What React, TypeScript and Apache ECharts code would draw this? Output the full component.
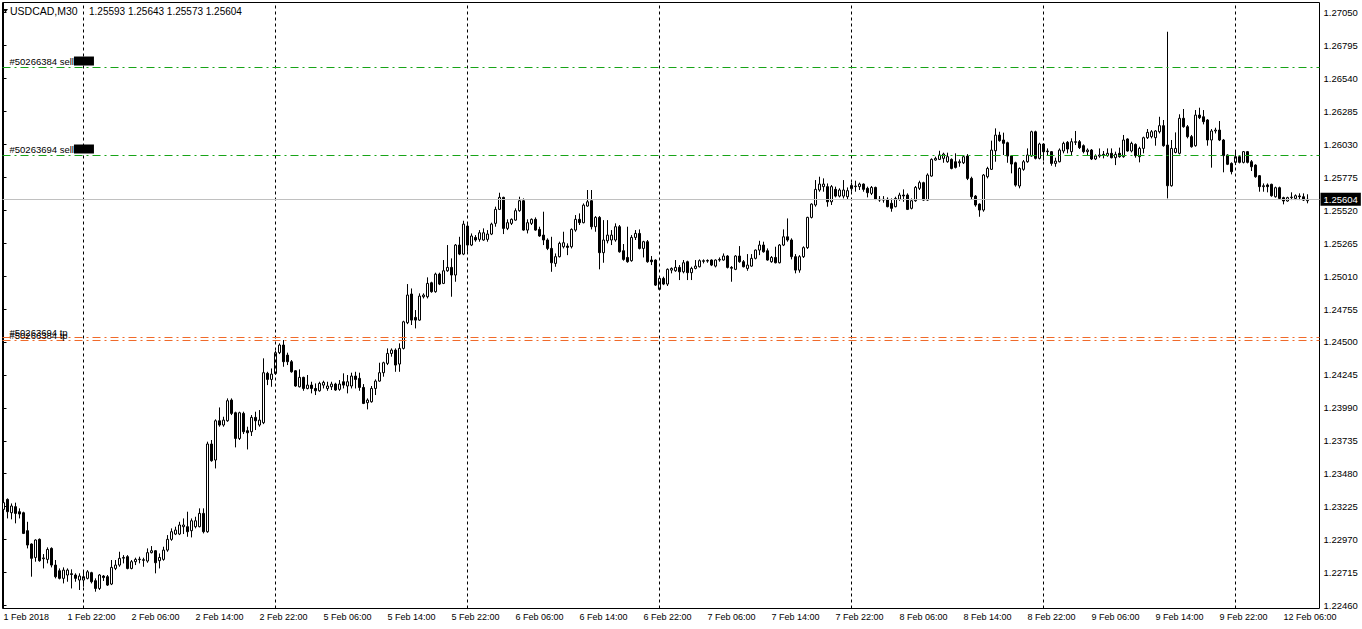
import React, { useEffect, useRef } from "react";
import * as echarts from "echarts";

// Each bar: [open, high, low, close]  (USDCAD, M30)
const feb1: number[][] = [
  [1.23204,1.23289,1.23134,1.23256],[1.23281,1.23289,1.23134,1.23186],[1.23178,1.23250,1.23127,1.23230],[1.23225,1.23256,1.23096,1.23173],
  [1.23186,1.23212,1.23134,1.23168],[1.23178,1.23186,1.23013,1.23018],[1.23039,1.23108,1.22902,1.22928],[1.22936,1.22941,1.22683,1.22825],
  [1.22832,1.22972,1.22799,1.22967],[1.22972,1.22979,1.22799,1.22807],[1.22822,1.22858,1.22747,1.22828],[1.22817,1.22910,1.22786,1.22894],
  [1.22902,1.22910,1.22755,1.22773],[1.22773,1.22812,1.22670,1.22683],[1.22729,1.22747,1.22662,1.22670],[1.22670,1.22755,1.22631,1.22734],
  [1.22696,1.22747,1.22644,1.22734],[1.22706,1.22740,1.22592,1.22700],[1.22696,1.22709,1.22644,1.22670],[1.22657,1.22709,1.22580,1.22688],
];
const feb2: number[][] = [
  [1.22657,1.22721,1.22605,1.22683],[1.22670,1.22734,1.22662,1.22721],[1.22714,1.22721,1.22631,1.22644],[1.22652,1.22670,1.22567,1.22592],
  [1.22592,1.22703,1.22580,1.22696],[1.22688,1.22696,1.22650,1.22676],[1.22683,1.22696,1.22611,1.22618],[1.22626,1.22812,1.22618,1.22755],
  [1.22747,1.22812,1.22734,1.22773],[1.22773,1.22876,1.22760,1.22825],[1.22826,1.22850,1.22786,1.22832],[1.22838,1.22850,1.22740,1.22747],
  [1.22747,1.22812,1.22740,1.22799],[1.22799,1.22830,1.22773,1.22817],[1.22815,1.22838,1.22786,1.22819],[1.22814,1.22830,1.22760,1.22810],
  [1.22804,1.22902,1.22791,1.22869],[1.22869,1.22920,1.22863,1.22884],[1.22884,1.22889,1.22709,1.22791],[1.22807,1.22863,1.22747,1.22832],
  [1.22817,1.22915,1.22807,1.22889],[1.22889,1.23005,1.22876,1.22972],[1.22972,1.23057,1.22961,1.23031],[1.23013,1.23070,1.23005,1.23044],
  [1.23013,1.23108,1.23005,1.23083],[1.23070,1.23134,1.23013,1.23083],[1.23070,1.23186,1.22992,1.23031],[1.23039,1.23134,1.22987,1.23116],
  [1.23070,1.23147,1.23057,1.23116],[1.23070,1.23212,1.23065,1.23173],[1.23173,1.23212,1.23018,1.23031],[1.23031,1.23728,1.23023,1.23710],
  [1.23710,1.23741,1.23573,1.23581],[1.23586,1.23901,1.23521,1.23890],[1.23890,1.23993,1.23844,1.23857],[1.23857,1.23921,1.23844,1.23895],
  [1.23890,1.24063,1.23882,1.24045],[1.24050,1.24063,1.23934,1.23947],[1.23952,1.23960,1.23684,1.23753],[1.23753,1.23960,1.23741,1.23952],
  [1.23947,1.23960,1.23787,1.23805],[1.23813,1.23844,1.23668,1.23797],[1.23805,1.23934,1.23772,1.23916],[1.23916,1.23960,1.23818,1.23890],
  [1.23857,1.23973,1.23844,1.23895],[1.23875,1.24373,1.23864,1.24262],[1.24257,1.24269,1.24166,1.24210],[1.24210,1.24295,1.24153,1.24251],
];
const feb5: number[][] = [
  [1.24255,1.24432,1.24245,1.24417],[1.24417,1.24489,1.24406,1.24476],[1.24476,1.24515,1.24308,1.24347],[1.24398,1.24417,1.24321,1.24347],
  [1.24347,1.24360,1.24262,1.24269],[1.24277,1.24282,1.24153,1.24159],[1.24153,1.24288,1.24148,1.24226],[1.24226,1.24231,1.24122,1.24140],
  [1.24140,1.24244,1.24133,1.24166],[1.24166,1.24192,1.24102,1.24140],[1.24140,1.24179,1.24089,1.24122],[1.24122,1.24192,1.24115,1.24179],
  [1.24166,1.24200,1.24140,1.24187],[1.24140,1.24192,1.24122,1.24159],[1.24153,1.24192,1.24128,1.24174],[1.24174,1.24184,1.24122,1.24128],
  [1.24133,1.24205,1.24122,1.24174],[1.24192,1.24257,1.24140,1.24166],[1.24159,1.24244,1.24102,1.24192],[1.24159,1.24262,1.24140,1.24236],
  [1.24236,1.24269,1.24140,1.24210],[1.24218,1.24262,1.24122,1.24148],[1.24148,1.24174,1.24019,1.24024],[1.24030,1.24063,1.23978,1.24050],
  [1.24037,1.24159,1.24030,1.24140],[1.24140,1.24210,1.24089,1.24197],[1.24197,1.24339,1.24192,1.24262],[1.24262,1.24347,1.24231,1.24339],
  [1.24334,1.24450,1.24321,1.24411],[1.24411,1.24450,1.24386,1.24437],[1.24437,1.24450,1.24269,1.24321],[1.24329,1.24489,1.24269,1.24450],
  [1.24450,1.24664,1.24442,1.24656],[1.24649,1.24948,1.24638,1.24863],[1.24871,1.24914,1.24631,1.24669],[1.24690,1.24747,1.24605,1.24669],
  [1.24669,1.24876,1.24664,1.24855],[1.24850,1.24876,1.24837,1.24863],[1.24850,1.25000,1.24837,1.24953],[1.24958,1.24966,1.24881,1.24889],
  [1.24889,1.25036,1.24881,1.25025],[1.25025,1.25036,1.24940,1.24948],[1.24953,1.25134,1.24948,1.25051],[1.25051,1.25250,1.25043,1.25077],
  [1.25077,1.25147,1.24850,1.25018],[1.25018,1.25258,1.24966,1.25250],[1.25250,1.25314,1.25172,1.25180],[1.25180,1.25438,1.25172,1.25412],
];
const feb6: number[][] = [
  [1.25397,1.25412,1.25198,1.25250],[1.25250,1.25340,1.25242,1.25320],[1.25309,1.25327,1.25276,1.25289],[1.25294,1.25366,1.25276,1.25345],
  [1.25289,1.25379,1.25283,1.25345],[1.25294,1.25366,1.25276,1.25335],[1.25335,1.25423,1.25327,1.25412],[1.25418,1.25547,1.25392,1.25526],
  [1.25526,1.25655,1.25521,1.25619],[1.25619,1.25624,1.25335,1.25379],[1.25379,1.25449,1.25366,1.25423],[1.25418,1.25456,1.25405,1.25449],
  [1.25443,1.25534,1.25438,1.25516],[1.25516,1.25624,1.25508,1.25593],[1.25593,1.25611,1.25361,1.25366],[1.25366,1.25449,1.25340,1.25423],
  [1.25418,1.25456,1.25405,1.25449],[1.25449,1.25464,1.25361,1.25366],[1.25371,1.25392,1.25314,1.25320],[1.25327,1.25508,1.25250,1.25289],
  [1.25289,1.25302,1.25211,1.25224],[1.25224,1.25314,1.25043,1.25113],[1.25108,1.25185,1.25082,1.25160],[1.25160,1.25276,1.25154,1.25263],
  [1.25237,1.25353,1.25224,1.25268],[1.25242,1.25263,1.25172,1.25232],[1.25237,1.25379,1.25224,1.25371],[1.25366,1.25482,1.25353,1.25449],
  [1.25449,1.25495,1.25405,1.25423],[1.25423,1.25572,1.25418,1.25559],[1.25552,1.25676,1.25547,1.25585],[1.25593,1.25676,1.25371,1.25392],
  [1.25392,1.25474,1.25353,1.25464],[1.25464,1.25474,1.25062,1.25191],[1.25191,1.25443,1.25113,1.25289],[1.25283,1.25443,1.25263,1.25327],
  [1.25289,1.25366,1.25250,1.25327],[1.25289,1.25418,1.25276,1.25392],[1.25392,1.25405,1.25191,1.25198],[1.25206,1.25258,1.25129,1.25139],
  [1.25154,1.25392,1.25113,1.25121],[1.25129,1.25327,1.25121,1.25309],[1.25309,1.25366,1.25289,1.25340],[1.25340,1.25371,1.25216,1.25224],
  [1.25224,1.25283,1.25154,1.25276],[1.25276,1.25289,1.25113,1.25121],[1.25134,1.25165,1.25095,1.25121],[1.25134,1.25139,1.24933,1.24940],
];
const feb7: number[][] = [
  [1.24907,1.25000,1.24902,1.24992],[1.24992,1.25005,1.24940,1.24948],[1.24948,1.25069,1.24933,1.25062],[1.25056,1.25077,1.25031,1.25069],
  [1.25051,1.25134,1.25043,1.25077],[1.25077,1.25095,1.24979,1.25043],[1.25043,1.25134,1.25031,1.25113],[1.25121,1.25129,1.24979,1.25036],
  [1.25036,1.25082,1.24979,1.25069],[1.25069,1.25134,1.25062,1.25087],[1.25082,1.25139,1.25077,1.25129],[1.25124,1.25139,1.25108,1.25129],
  [1.25126,1.25139,1.25113,1.25131],[1.25134,1.25139,1.25087,1.25095],[1.25087,1.25139,1.25077,1.25134],[1.25134,1.25154,1.25121,1.25139],
  [1.25134,1.25185,1.25129,1.25165],[1.25165,1.25172,1.25069,1.25077],[1.25077,1.25087,1.24966,1.25071],[1.25062,1.25172,1.25056,1.25165],
  [1.25165,1.25242,1.25113,1.25121],[1.25121,1.25134,1.25077,1.25082],[1.25069,1.25180,1.25051,1.25095],[1.25087,1.25180,1.25082,1.25147],
  [1.25147,1.25216,1.25139,1.25211],[1.25211,1.25283,1.25172,1.25250],[1.25250,1.25276,1.25191,1.25198],[1.25206,1.25224,1.25129,1.25134],
  [1.25121,1.25165,1.25113,1.25154],[1.25154,1.25237,1.25108,1.25113],[1.25113,1.25258,1.25108,1.25250],[1.25250,1.25371,1.25242,1.25314],
  [1.25314,1.25456,1.25276,1.25289],[1.25289,1.25302,1.25139,1.25160],[1.25160,1.25180,1.25031,1.25056],[1.25056,1.25172,1.25036,1.25160],
  [1.25160,1.25240,1.25150,1.25230],[1.25230,1.25469,1.25220,1.25464],[1.25464,1.25573,1.25456,1.25567],[1.25560,1.25753,1.25547,1.25681],
  [1.25676,1.25779,1.25663,1.25722],[1.25702,1.25766,1.25663,1.25722],[1.25702,1.25727,1.25547,1.25585],[1.25585,1.25714,1.25560,1.25702],
  [1.25681,1.25702,1.25619,1.25629],[1.25629,1.25689,1.25619,1.25676],[1.25629,1.25753,1.25611,1.25676],[1.25624,1.25696,1.25604,1.25671],
];
const feb8: number[][] = [
  [1.25686,1.25733,1.25663,1.25712],[1.25702,1.25748,1.25663,1.25707],[1.25702,1.25733,1.25676,1.25722],[1.25722,1.25727,1.25663,1.25681],
  [1.25689,1.25702,1.25619,1.25655],[1.25650,1.25707,1.25637,1.25696],[1.25696,1.25702,1.25598,1.25604],[1.25604,1.25629,1.25585,1.25598],
  [1.25598,1.25629,1.25578,1.25604],[1.25604,1.25619,1.25542,1.25547],[1.25573,1.25611,1.25508,1.25534],[1.25547,1.25624,1.25542,1.25611],
  [1.25604,1.25655,1.25593,1.25637],[1.25637,1.25681,1.25585,1.25630],[1.25637,1.25650,1.25521,1.25526],[1.25534,1.25611,1.25526,1.25593],
  [1.25593,1.25707,1.25585,1.25696],[1.25689,1.25748,1.25676,1.25733],[1.25733,1.25740,1.25593,1.25598],[1.25598,1.25805,1.25593,1.25792],
  [1.25784,1.25921,1.25779,1.25913],[1.25908,1.25934,1.25903,1.25921],[1.25913,1.25980,1.25908,1.25947],[1.25921,1.25965,1.25887,1.25954],
  [1.25895,1.25965,1.25887,1.25934],[1.25913,1.25921,1.25836,1.25843],[1.25895,1.25960,1.25843,1.25851],[1.25887,1.25913,1.25856,1.25895],
  [1.25887,1.25947,1.25877,1.25934],[1.25939,1.25954,1.25753,1.25766],[1.25766,1.25779,1.25604,1.25624],[1.25629,1.25637,1.25547,1.25560],
  [1.25567,1.25573,1.25469,1.25521],[1.25521,1.25800,1.25508,1.25792],[1.25779,1.25856,1.25766,1.25843],[1.25836,1.26058,1.25831,1.25985],
  [1.25980,1.26153,1.25895,1.26101],[1.26101,1.26127,1.26050,1.26058],[1.26063,1.26120,1.25947,1.26037],[1.26042,1.26050,1.25887,1.25939],
  [1.25939,1.25947,1.25805,1.25877],[1.25887,1.25895,1.25702,1.25714],[1.25707,1.25851,1.25689,1.25843],[1.25836,1.25908,1.25825,1.25895],
  [1.25895,1.25998,1.25887,1.25947],[1.25939,1.26135,1.25934,1.26127],[1.26127,1.26135,1.25913,1.25921],[1.25921,1.26042,1.25913,1.26032],
];
const feb9: number[][] = [
  [1.26032,1.26037,1.25903,1.25972],[1.25973,1.25998,1.25947,1.25978],[1.25973,1.25978,1.25864,1.25882],[1.25882,1.25926,1.25856,1.25900],
  [1.25895,1.25998,1.25890,1.25985],[1.25978,1.26050,1.25960,1.26037],[1.26045,1.26055,1.25960,1.25993],[1.25973,1.26076,1.25942,1.26050],
  [1.26045,1.26133,1.26024,1.26050],[1.26050,1.26063,1.25993,1.26004],[1.26019,1.26029,1.25960,1.25973],[1.25973,1.25998,1.25942,1.25985],
  [1.25985,1.25993,1.25908,1.25916],[1.25916,1.25952,1.25908,1.25939],[1.25939,1.25998,1.25926,1.25947],[1.25947,1.25978,1.25921,1.25952],
  [1.25942,1.25998,1.25934,1.25960],[1.25960,1.25998,1.25921,1.25926],[1.25926,1.25973,1.25869,1.25952],[1.25960,1.26004,1.25926,1.25934],
  [1.25934,1.26102,1.25926,1.26063],[1.26071,1.26076,1.25973,1.25978],[1.25978,1.26050,1.25967,1.26037],[1.26029,1.26037,1.25926,1.25942],
  [1.25934,1.26011,1.25890,1.25998],[1.25998,1.26089,1.25960,1.26081],[1.26081,1.26148,1.26071,1.26122],[1.26089,1.26140,1.26076,1.26127],
  [1.26081,1.26140,1.26019,1.26133],[1.26127,1.26243,1.26114,1.26174],[1.26174,1.26218,1.26011,1.26019],[1.26024,1.26901,1.25611,1.25709],
  [1.25709,1.26063,1.25702,1.25998],[1.25967,1.26122,1.25960,1.25998],[1.25960,1.26262,1.25952,1.26231],[1.26231,1.26303,1.26158,1.26166],
  [1.26166,1.26179,1.26076,1.26089],[1.26089,1.26102,1.26004,1.26011],[1.26019,1.26295,1.26011,1.26256],[1.26256,1.26313,1.26225,1.26236],
  [1.26243,1.26295,1.26184,1.26205],[1.26218,1.26225,1.26019,1.26063],[1.26063,1.26148,1.25849,1.26133],[1.26133,1.26158,1.26114,1.26140],
  [1.26140,1.26210,1.26055,1.26063],[1.26063,1.26071,1.25813,1.25942],[1.25947,1.25952,1.25869,1.25875],[1.25882,1.25890,1.25797,1.25818],
];
const feb12: number[][] = [
  [1.25890,1.25973,1.25869,1.25934],[1.25934,1.25942,1.25882,1.25890],[1.25890,1.25978,1.25882,1.25973],[1.25973,1.25978,1.25882,1.25890],
  [1.25895,1.25908,1.25823,1.25856],[1.25869,1.25875,1.25771,1.25779],[1.25787,1.25792,1.25663,1.25702],[1.25702,1.25727,1.25663,1.25709],
  [1.25715,1.25727,1.25658,1.25702],[1.25720,1.25725,1.25624,1.25632],[1.25624,1.25702,1.25617,1.25694],[1.25694,1.25702,1.25606,1.25611],
  [1.25617,1.25624,1.25565,1.25591],[1.25591,1.25624,1.25586,1.25617],[1.25617,1.25658,1.25598,1.25621],[1.25611,1.25642,1.25598,1.25632],
  [1.25630,1.25650,1.25598,1.25624],[1.25624,1.25650,1.25591,1.25598],[1.25593,1.25643,1.25573,1.25604],
];

const dayNames = ["1 Feb", "2 Feb", "5 Feb", "6 Feb", "7 Feb", "8 Feb", "9 Feb", "12 Feb"];
const dayBars = [feb1, feb2, feb5, feb6, feb7, feb8, feb9, feb12];
const firstDayStartHour = 14;
const firstLabel = "1 Feb 2018";
const symbolTitle = "USDCAD,M30";

const priceTicks = [
  1.2246, 1.22715, 1.2297, 1.23225, 1.2348, 1.23735, 1.2399, 1.24245, 1.245, 1.24755,
  1.2501, 1.25265, 1.2552, 1.25775, 1.2603, 1.26285, 1.2654, 1.26795, 1.2705,
];
const sellOrders = [
  { label: "#50266384 sell", price: 1.26628 },
  { label: "#50263694 sell", price: 1.25947 },
];
const tpOrders = [
  { label: "#50263694 tp", price: 1.24538 },
  { label: "#50266384 tp", price: 1.24515 },
];

const FONT = "'Liberation Sans', Arial, sans-serif";

export default function App() {
  const ref = useRef<HTMLDivElement>(null);
  useEffect(() => {
    if (!ref.current) return;
    const chart = echarts.init(ref.current, undefined, { renderer: "svg" });

    const bars: number[][] = [];
    const times: string[] = [];
    const separators: number[] = [];
    dayBars.forEach((day, d) => {
      if (d > 0) separators.push(bars.length);
      const start = d === 0 ? firstDayStartHour * 60 : 0;
      day.forEach((b, j) => {
        const m = start + j * 30;
        const hh = Math.floor(m / 60);
        const mm = m % 60;
        times.push(`${dayNames[d]} ${String(hh).padStart(2, "0")}:${String(mm).padStart(2, "0")}`);
        bars.push(b);
      });
    });
    times[0] = firstLabel;
    const data = bars.map((b, i) => [i, b[0], b[3], b[2], b[1]]);
    const labelIdx: number[] = [];
    for (let i = 0; i < bars.length; i += 16) labelIdx.push(i);
    const last = bars[bars.length - 1];
    const current = last[3];

    const markData: any[] = [];
    separators.forEach((s) =>
      markData.push({ xAxis: s, lineStyle: { color: "#000", type: [3, 3], width: 1 }, label: { show: false } })
    );
    markData.push({
      yAxis: current,
      lineStyle: { color: "#c0c0c0", type: "solid", width: 1 },
      label: {
        show: true, position: "end", formatter: current.toFixed(5), color: "#fff", backgroundColor: "#000",
        padding: [2, 3, 1, 3], distance: 1, fontSize: 9.5, fontFamily: FONT,
      },
    });
    sellOrders.forEach((o) =>
      markData.push({
        yAxis: o.price,
        lineStyle: { color: "#18a418", type: [8, 4, 2, 4], width: 1.2, opacity: 1 },
        label: {
          show: true, position: "insideStartTop", distance: [7, 1],
          formatter: `{t|${o.label}}{b|}`,
          rich: {
            t: { fontSize: 9.5, fontFamily: FONT, color: "#000" },
            b: { backgroundColor: "#000", width: 20, height: 9 },
          },
        },
      })
    );
    tpOrders.forEach((o) =>
      markData.push({
        yAxis: o.price,
        lineStyle: { color: "#f06a2a", type: [8, 4, 2, 4], width: 1 },
        label: {
          show: true, position: "insideStartTop", distance: [7, 0],
          formatter: o.label, fontSize: 9.5, fontFamily: FONT, color: "#000",
        },
      })
    );

    chart.setOption({
      animation: false,
      backgroundColor: "#fff",
      textStyle: { fontFamily: FONT },
      grid: { left: 2.5, top: 2.5, width: 1317, height: 606, show: true, borderColor: "#000", borderWidth: 1, backgroundColor: "transparent" },
      xAxis: {
        type: "value", min: -0.25, max: 329,
        axisLine: { show: false }, axisTick: { show: false }, splitLine: { show: false },
        axisLabel: {
          customValues: labelIdx, formatter: (v: number) => times[Math.round(v)] ?? "",
          align: "left", margin: 4, fontSize: 9, fontFamily: FONT, color: "#000",
        },
      },
      yAxis: {
        type: "value", position: "right", min: 1.224368, max: 1.271274,
        axisLine: { show: true, lineStyle: { color: "#000", width: 1 } },
        axisTick: { show: true, length: 3, customValues: priceTicks, lineStyle: { color: "#000" } },
        axisLabel: {
          customValues: priceTicks, formatter: (v: number) => v.toFixed(5),
          margin: 4, fontSize: 9.5, fontFamily: FONT, color: "#000",
        },
        splitLine: { show: false },
      },
      graphic: [
        { type: "polygon", shape: { points: [[3, 9], [8, 9], [5.5, 12.5]] }, style: { fill: "#000" } },
        { type: "text", x: 10, y: 11, style: { text: symbolTitle, font: `10.5px ${FONT}`, fill: "#000", verticalAlign: "middle" } },
        {
          type: "text", x: 89, y: 11,
          style: { text: `${last[0].toFixed(5)} ${last[1].toFixed(5)} ${last[2].toFixed(5)} ${last[3].toFixed(5)}`, font: `10px ${FONT}`, fill: "#000", verticalAlign: "middle" },
        },
      ],
      series: [
        {
          type: "candlestick",
          data,
          encode: { x: 0, y: [1, 2, 3, 4] },
          barWidth: 2,
          itemStyle: { color: "#fff", color0: "#000", borderColor: "#000", borderColor0: "#000", borderWidth: 1 },
          markLine: { symbol: "none", silent: true, animation: false, precision: 5, data: markData },
        },
      ],
    });
    return () => chart.dispose();
  }, []);
  return <div ref={ref} style={{ position: "fixed", left: 0, top: 0, width: 1362, height: 629 }} />;
}
